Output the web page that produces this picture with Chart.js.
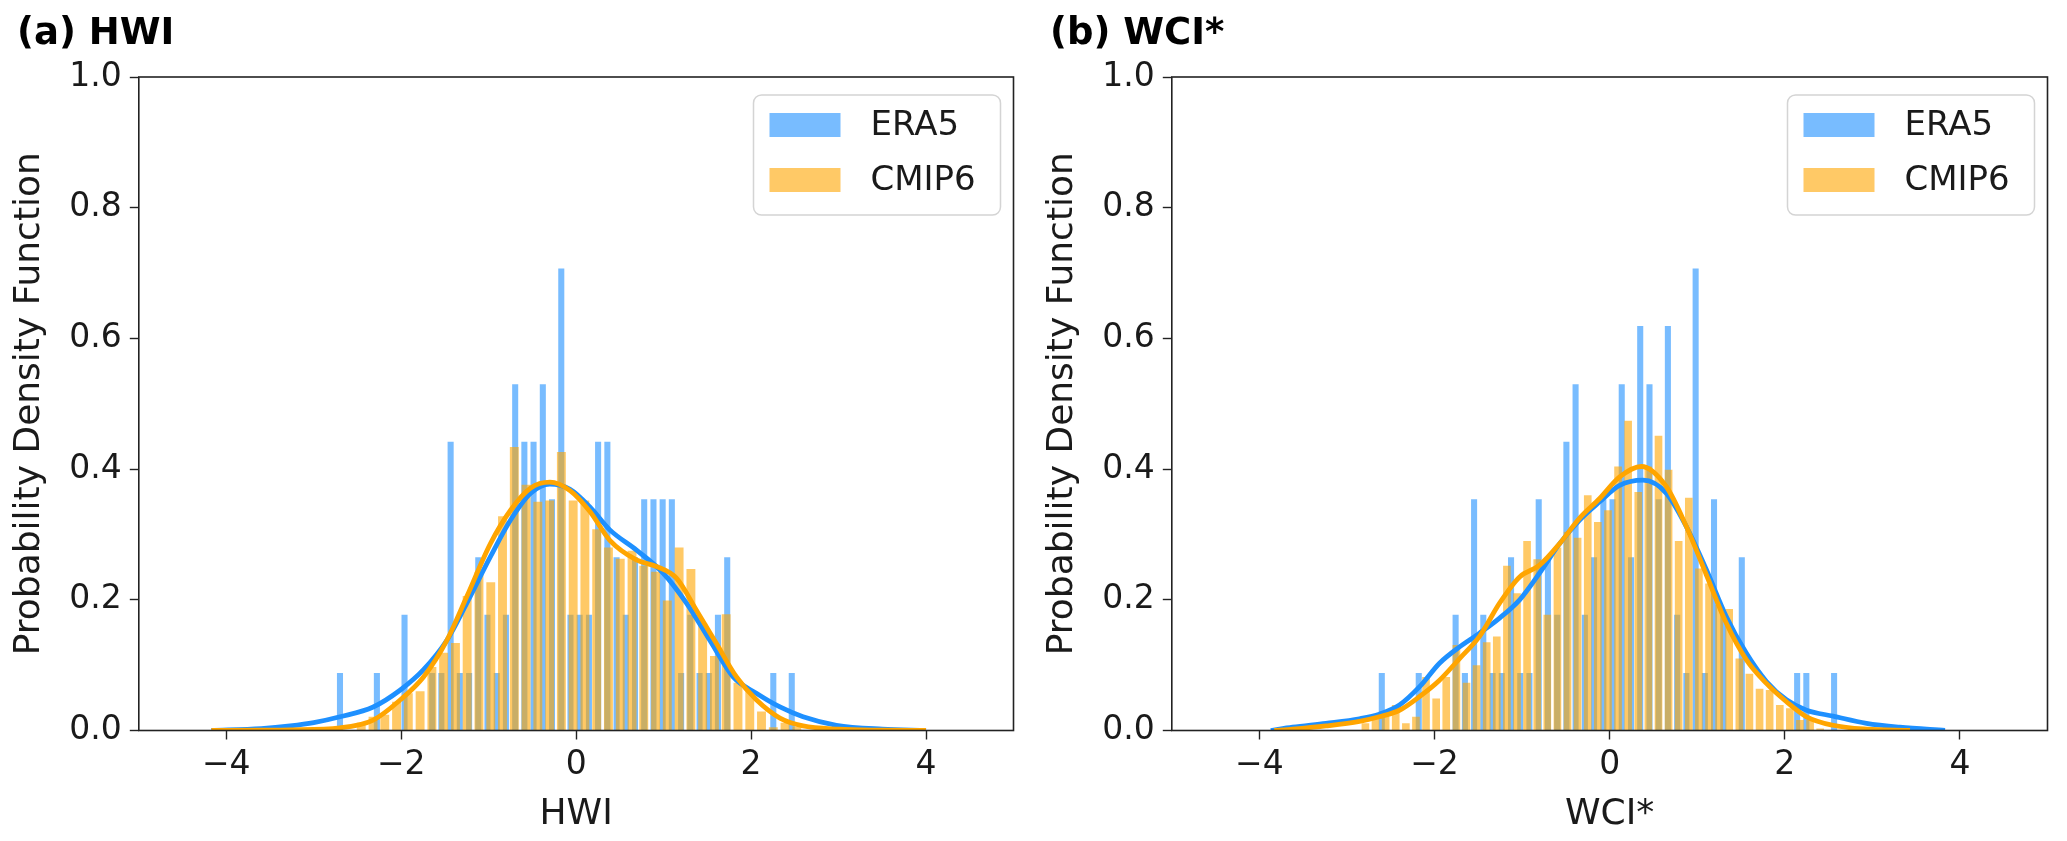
<!DOCTYPE html>
<html>
<head>
<meta charset="utf-8">
<script src="https://cdn.jsdelivr.net/npm/chart.js@4.4.1/dist/chart.umd.min.js"></script>
<style>
  html, body { margin: 0; padding: 0; background: #ffffff; }
  #wrap { position: relative; width: 2067px; height: 841px; }
  canvas { position: absolute; top: 0; }
</style>
</head>
<body>
<div id="wrap">
  <canvas id="panelA" width="1033" height="841" style="left:0px"></canvas>
  <canvas id="panelB" width="1034" height="841" style="left:1033px"></canvas>
</div>
<script>
//Labels
const seriesNames = ['ERA5', 'CMIP6'];
const panelTitles = ['(a) HWI', '(b) WCI*'];
const axisTitles = ['HWI', 'WCI*'];
const yAxisTitle = 'Probability Density Function';
const xTicks = [-4, -2, 0, 2, 4];
const yTicks = [0, 0.2, 0.4, 0.6, 0.8, 1.0];

//Panel (a) HWI - ERA5 histogram (bin centres and densities)
const hwiEra5Bins = [-2.700, -2.595, -2.489, -2.384, -2.278, -2.173, -2.068, -1.962, -1.857, -1.751,
  -1.646, -1.541, -1.435, -1.330, -1.224, -1.119, -1.014, -0.908, -0.803, -0.697,
  -0.592, -0.487, -0.381, -0.276, -0.170, -0.065, 0.040, 0.146, 0.251, 0.357,
  0.462, 0.567, 0.673, 0.778, 0.884, 0.989, 1.094, 1.200, 1.305, 1.411,
  1.516, 1.621, 1.727, 1.832, 1.938, 2.043, 2.148, 2.254, 2.359, 2.465];
const hwiEra5Pdf = [0.088, 0, 0, 0, 0.088, 0, 0, 0.177, 0, 0,
  0.088, 0.088, 0.442, 0.088, 0.088, 0.265, 0.177, 0.088, 0.177, 0.530,
  0.442, 0.442, 0.530, 0.354, 0.707, 0.177, 0.177, 0.177, 0.442, 0.442,
  0.265, 0.177, 0.265, 0.354, 0.354, 0.354, 0.354, 0.088, 0.177, 0.088,
  0.088, 0.177, 0.265, 0, 0, 0, 0, 0.088, 0, 0.088];

//Panel (a) HWI - CMIP6 histogram
const hwiCmipBins = [-2.457, -2.322, -2.188, -2.053, -1.919, -1.784, -1.649, -1.515, -1.380, -1.246,
  -1.111, -0.976, -0.842, -0.707, -0.573, -0.438, -0.303, -0.169, -0.034, 0.100,
  0.235, 0.369, 0.504, 0.639, 0.773, 0.908, 1.042, 1.177, 1.312, 1.446,
  1.581, 1.715, 1.850, 1.985, 2.119, 2.254, 2.388, 2.523];
const hwiCmipPdf = [0.012, 0.021, 0.024, 0.044, 0.057, 0.060, 0.097, 0.119, 0.134, 0.206,
  0.243, 0.227, 0.328, 0.434, 0.376, 0.350, 0.352, 0.426, 0.352, 0.352,
  0.308, 0.280, 0.263, 0.275, 0.252, 0.243, 0.199, 0.280, 0.247, 0.164,
  0.114, 0.178, 0.073, 0.061, 0.029, 0.005, 0.012, 0.006];

//Panel (a) HWI - KDE curves
const hwiEra5KdeX = [-4.17, -3.6, -3.27, -3.0, -2.70, -2.32, -2.01, -1.745, -1.478, -1.25, -0.98, -0.75, -0.52, -0.30,
  -0.07, 0.157, 0.385, 0.69, 0.994, 1.261, 1.528, 1.795, 2.06, 2.33, 2.594, 2.975, 3.5, 4.0];
const hwiEra5KdeY = [0.0, 0.003, 0.007, 0.012, 0.021, 0.036, 0.062, 0.093, 0.138, 0.195, 0.266, 0.322, 0.363, 0.377,
  0.369, 0.342, 0.307, 0.276, 0.241, 0.195, 0.138, 0.082, 0.057, 0.036, 0.021, 0.008, 0.002, 0.0];
const hwiCmipKdeX = [-4.17, -3.6, -3.27, -2.70, -2.32, -2.01, -1.745, -1.478, -1.25, -0.98, -0.75, -0.52, -0.30, -0.07,
  0.157, 0.385, 0.69, 0.918, 1.147, 1.375, 1.604, 1.833, 2.06, 2.33, 2.594, 3.0, 3.5, 4.0];
const hwiCmipKdeY = [0.0, 0.0005, 0.001, 0.004, 0.016, 0.047, 0.082, 0.138, 0.205, 0.286, 0.337, 0.371, 0.380, 0.367,
  0.335, 0.291, 0.261, 0.251, 0.233, 0.184, 0.133, 0.082, 0.047, 0.019, 0.007, 0.002, 0.0005, 0.0];

//Panel (b) WCI* - ERA5 histogram
const wciEra5Bins = [-2.602, -2.497, -2.391, -2.286, -2.180, -2.075, -1.970, -1.864, -1.759, -1.653,
  -1.548, -1.443, -1.337, -1.232, -1.126, -1.021, -0.916, -0.810, -0.705, -0.599,
  -0.494, -0.389, -0.283, -0.178, -0.072, 0.033, 0.138, 0.244, 0.349, 0.455,
  0.560, 0.665, 0.771, 0.876, 0.982, 1.087, 1.192, 1.298, 1.403, 1.509,
  1.614, 1.719, 1.825, 1.930, 2.036, 2.141, 2.246, 2.352, 2.457, 2.563];
const wciEra5Pdf = [0.088, 0, 0, 0, 0.088, 0, 0, 0, 0.177, 0.088,
  0.354, 0.177, 0.088, 0.088, 0.265, 0.088, 0.088, 0.354, 0.265, 0.177,
  0.442, 0.530, 0.177, 0.265, 0.354, 0.354, 0.530, 0.265, 0.619, 0.530,
  0.354, 0.619, 0.177, 0.088, 0.707, 0.088, 0.354, 0.177, 0, 0.265,
  0, 0, 0, 0, 0, 0.088, 0.088, 0, 0, 0.088];

//Panel (b) WCI* - CMIP6 histogram
const wciCmipBins = [-2.789, -2.674, -2.558, -2.443, -2.327, -2.212, -2.097, -1.981, -1.866, -1.750,
  -1.635, -1.520, -1.404, -1.289, -1.173, -1.058, -0.943, -0.827, -0.712, -0.596,
  -0.481, -0.366, -0.250, -0.135, -0.019, 0.096, 0.211, 0.327, 0.442, 0.558,
  0.673, 0.788, 0.904, 1.019, 1.135, 1.250, 1.365, 1.481, 1.596, 1.712,
  1.827, 1.943, 2.058, 2.173, 2.289, 2.404];
const wciCmipPdf = [0.011, 0.019, 0.021, 0.039, 0.011, 0.021, 0.082, 0.049, 0.082, 0.131,
  0.073, 0.100, 0.135, 0.144, 0.252, 0.210, 0.290, 0.262, 0.177, 0.280,
  0.304, 0.295, 0.360, 0.319, 0.337, 0.404, 0.474, 0.365, 0.404, 0.451,
  0.399, 0.290, 0.356, 0.248, 0.225, 0.192, 0.186, 0.110, 0.087, 0.064,
  0.062, 0.039, 0.034, 0.016, 0.016, 0.003];

//Panel (b) WCI* - KDE curves
const wciEra5KdeX = [-3.87, -3.62, -3.24, -2.857, -2.63, -2.40, -2.17, -1.943, -1.714, -1.486, -1.257, -1.028, -0.8, -0.571,
  -0.343, -0.114, 0.114, 0.381, 0.648, 0.876, 1.105, 1.333, 1.562, 1.79, 2.019, 2.248, 2.552, 2.933, 3.314, 3.83];
const wciEra5KdeY = [0.0, 0.005, 0.011, 0.018, 0.025, 0.039, 0.067, 0.103, 0.128, 0.149, 0.172, 0.200, 0.241, 0.286,
  0.322, 0.350, 0.375, 0.383, 0.363, 0.312, 0.246, 0.174, 0.118, 0.075, 0.047, 0.031, 0.022, 0.011, 0.005, 0.0];
const wciCmipKdeX = [-3.83, -3.62, -3.24, -2.857, -2.63, -2.40, -2.17, -1.943, -1.714, -1.486, -1.257, -1.028, -0.8, -0.571,
  -0.343, -0.114, 0.114, 0.362, 0.648, 0.876, 1.105, 1.333, 1.562, 1.79, 2.019, 2.248, 2.552, 2.933, 3.43];
const wciCmipKdeY = [0.0, 0.002, 0.007, 0.014, 0.021, 0.031, 0.052, 0.077, 0.110, 0.144, 0.195, 0.235, 0.253, 0.286,
  0.325, 0.355, 0.388, 0.404, 0.373, 0.312, 0.238, 0.164, 0.108, 0.072, 0.044, 0.021, 0.008, 0.002, 0.0];

//Colours
const ERA5_FILL = 'rgba(30, 144, 255, 0.6)';
const CMIP_FILL = 'rgba(255, 165, 0, 0.6)';
const ERA5_LINE = '#1e90ff';
const CMIP_LINE = '#ffa500';
const INK = '#1a1a1a';
const SPINE = '#222222';
const FONT = "'DejaVu Sans', sans-serif";

//Pair up two arrays into {x, y} points
function toPoints(xs, ys) {
    return xs.map((x, i) => ({x: x, y: ys[i]}));
}

//Box around the plotting area (all four spines, drawn above the bars)
const frame = {
    id: 'frame',
    afterDatasetsDraw(chart) {
        const {ctx, chartArea} = chart;
        ctx.save();
        ctx.strokeStyle = SPINE;
        ctx.lineWidth = 1.6;
        ctx.strokeRect(chartArea.left, chartArea.top, chartArea.right - chartArea.left, chartArea.bottom - chartArea.top);
        ctx.restore();
    }
};

//Matplotlib-like legend in the upper right corner with a rounded frame
const legendBox = {
    id: 'legendBox',
    afterDraw(chart) {
        const {ctx, chartArea} = chart;
        const items = chart.data.datasets.filter(d => d.type === 'bar');
        const w = 247;
        const h = 120;
        const x0 = chartArea.right - 13 - w;
        const y0 = chartArea.top + 18;
        ctx.save();
        ctx.beginPath();
        if (ctx.roundRect) {
            ctx.roundRect(x0, y0, w, h, 8);
        } else {
            ctx.rect(x0, y0, w, h);
        }
        ctx.fillStyle = 'rgba(255,255,255,0.8)';
        ctx.fill();
        ctx.strokeStyle = '#d4d4d4';
        ctx.lineWidth = 1.5;
        ctx.stroke();
        ctx.font = '34px ' + FONT;
        ctx.textBaseline = 'middle';
        ctx.textAlign = 'left';
        items.forEach((d, i) => {
            const cy = y0 + 30 + i * 55;
            ctx.fillStyle = d.backgroundColor;
            ctx.fillRect(x0 + 16, cy - 12, 71, 24);
            ctx.fillStyle = INK;
            ctx.fillText(d.label, x0 + 117, cy + 1);
        });
        ctx.restore();
    }
};

//Each histogram gets its own hidden x axis so the bar width follows its own bin width
function hiddenAxis() {
    return {type: 'linear', min: -5, max: 5, offset: false, display: false};
}

function makePanel(canvasId, title, xTitle, era5Bins, era5Pdf, cmipBins, cmipPdf, era5KdeX, era5KdeY, cmipKdeX, cmipKdeY) {
    const ctx = document.getElementById(canvasId);
    return new Chart(ctx, {
        data: {
            datasets: [
                {
                    type: 'bar',
                    label: seriesNames[0],
                    data: toPoints(era5Bins, era5Pdf),
                    xAxisID: 'xEra5',
                    backgroundColor: ERA5_FILL,
                    borderWidth: 0,
                    grouped: false,
                    categoryPercentage: 1,
                    barPercentage: 0.66,
                    order: 4
                },
                {
                    type: 'bar',
                    label: seriesNames[1],
                    data: toPoints(cmipBins, cmipPdf),
                    xAxisID: 'xCmip',
                    backgroundColor: CMIP_FILL,
                    borderWidth: 0,
                    grouped: false,
                    categoryPercentage: 1,
                    barPercentage: 0.76,
                    order: 3
                },
                {
                    type: 'line',
                    label: seriesNames[0] + ' KDE',
                    data: toPoints(era5KdeX, era5KdeY),
                    xAxisID: 'x',
                    borderColor: ERA5_LINE,
                    borderWidth: 4.8,
                    pointRadius: 0,
                    fill: false,
                    cubicInterpolationMode: 'monotone',
                    order: 2
                },
                {
                    type: 'line',
                    label: seriesNames[1] + ' KDE',
                    data: toPoints(cmipKdeX, cmipKdeY),
                    xAxisID: 'x',
                    borderColor: CMIP_LINE,
                    borderWidth: 4.8,
                    pointRadius: 0,
                    fill: false,
                    cubicInterpolationMode: 'monotone',
                    order: 1
                }
            ]
        },
        options: {
            responsive: false,
            animation: false,
            devicePixelRatio: 1,
            layout: {padding: {left: 17, right: 19.5, top: 0, bottom: 0}},
            plugins: {
                legend: {display: false},
                tooltip: {enabled: false},
                title: {
                    display: true,
                    text: title,
                    align: 'start',
                    color: '#000000',
                    font: {family: FONT, size: 37, weight: 'bold', lineHeight: 1.2},
                    padding: {top: 12, bottom: 20.6}
                }
            },
            scales: {
                x: {
                    type: 'linear',
                    min: -5,
                    max: 5,
                    offset: false,
                    afterBuildTicks: (scale) => { scale.ticks = xTicks.map(v => ({value: v})); },
                    afterFit: (scale) => { scale.height = 110.5; },
                    border: {display: false},
                    grid: {display: true, drawOnChartArea: false, drawTicks: true, tickLength: 9, tickWidth: 1.4, tickColor: SPINE},
                    ticks: {
                        color: INK,
                        padding: 6,
                        maxRotation: 0,
                        font: {family: FONT, size: 33},
                        callback: (v) => (v < 0 ? '\u2212' + Math.abs(v) : String(v))
                    },
                    title: {
                        display: true,
                        text: xTitle,
                        color: INK,
                        font: {family: FONT, size: 36, lineHeight: 1.2},
                        padding: {top: 0, bottom: 5}
                    }
                },
                xEra5: hiddenAxis(),
                xCmip: hiddenAxis(),
                y: {
                    type: 'linear',
                    min: 0,
                    max: 1,
                    afterBuildTicks: (scale) => { scale.ticks = yTicks.map(v => ({value: v})); },
                    afterFit: (scale) => { scale.width = 121.8; },
                    border: {display: false},
                    grid: {display: true, drawOnChartArea: false, drawTicks: true, tickLength: 9, tickWidth: 1.4, tickColor: SPINE},
                    ticks: {
                        color: INK,
                        padding: 8,
                        font: {family: FONT, size: 33},
                        callback: (v) => Number(v).toFixed(1)
                    },
                    title: {
                        display: true,
                        text: yAxisTitle,
                        color: INK,
                        font: {family: FONT, size: 36, lineHeight: 0.7},
                        padding: {top: 0, bottom: 0}
                    }
                }
            }
        },
        plugins: [frame, legendBox]
    });
}

makePanel('panelA', panelTitles[0], axisTitles[0],
    hwiEra5Bins, hwiEra5Pdf, hwiCmipBins, hwiCmipPdf,
    hwiEra5KdeX, hwiEra5KdeY, hwiCmipKdeX, hwiCmipKdeY);
makePanel('panelB', panelTitles[1], axisTitles[1],
    wciEra5Bins, wciEra5Pdf, wciCmipBins, wciCmipPdf,
    wciEra5KdeX, wciEra5KdeY, wciCmipKdeX, wciCmipKdeY);
</script>
</body>
</html>
